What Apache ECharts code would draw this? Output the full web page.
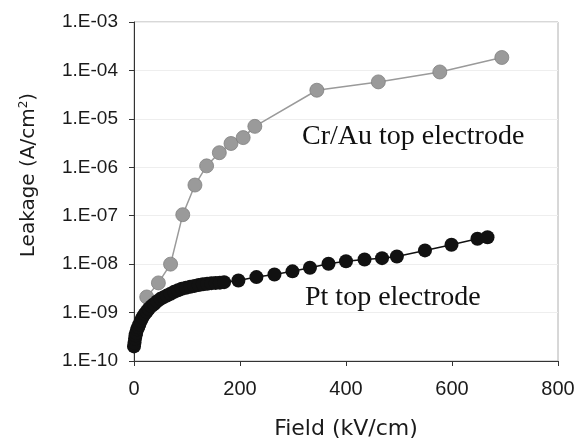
<!DOCTYPE html>
<html>
<head>
<meta charset="utf-8">
<script src="https://cdn.jsdelivr.net/npm/echarts@6/dist/echarts.min.js"></script>
<style>
  html, body { margin: 0; padding: 0; background: #fff; }
  #chart { width: 578px; height: 441px; }
</style>
</head>
<body>
<div id="chart"></div>
<script>
// Cr/Au top electrode (gray)
const crauField = [24, 46, 69, 92, 115, 137, 161, 183, 206, 228, 345, 461, 577, 694]
const crauLeak = [2.1e-9, 4.1e-9, 1.0e-8, 1.05e-7, 4.3e-7, 1.07e-6, 2.0e-6, 3.1e-6, 4.1e-6, 7.0e-6, 3.9e-5, 5.8e-5, 9.3e-5, 1.85e-4]

// Pt top electrode (black)
const ptField = [0, 1, 2, 3, 4, 6, 8, 10, 13, 16, 20, 24, 28, 33, 38, 44, 50, 56, 62, 69, 76, 83, 90, 98, 106, 114, 122, 130, 138, 146, 154, 162, 170,
  197, 231, 265, 299, 332, 367, 400, 435, 468, 496, 549, 599, 648, 667]
const ptLeak = [2.0e-10, 2.4e-10, 2.9e-10, 3.4e-10, 3.8e-10, 4.5e-10, 5.0e-10, 5.7e-10, 6.8e-10, 7.9e-10, 9.3e-10, 1.05e-9, 1.2e-9, 1.36e-9, 1.5e-9, 1.72e-9, 1.92e-9, 2.08e-9, 2.24e-9, 2.45e-9, 2.7e-9, 2.9e-9, 3.1e-9, 3.25e-9, 3.4e-9, 3.55e-9, 3.7e-9, 3.85e-9, 3.95e-9, 4.05e-9, 4.1e-9, 4.15e-9, 4.25e-9,
  4.6e-9, 5.4e-9, 6.1e-9, 7.1e-9, 8.4e-9, 1.02e-8, 1.15e-8, 1.25e-8, 1.33e-8, 1.44e-8, 1.92e-8, 2.51e-8, 3.34e-8, 3.6e-8]

const yTickLabels = ['1.E-10', '1.E-09', '1.E-08', '1.E-07', '1.E-06', '1.E-05', '1.E-04', '1.E-03']
const xTickLabels = ['0', '200', '400', '600', '800']

const chart = echarts.init(document.getElementById('chart'))

const zip = (xs, ys) => xs.map((x, i) => [x, ys[i]])

const option = {
  animation: false,
  backgroundColor: '#fff',
  grid: {
    left: 134, right: 20, top: 22, bottom: 80,
    outerBoundsMode: 'none',
    containLabel: false,
    show: true, borderColor: '#b0b0b0', borderWidth: 1
  },
  xAxis: {
    type: 'value',
    min: 0, max: 800, interval: 200,
    name: 'Field (kV/cm)',
    nameLocation: 'middle',
    nameGap: 57,
    nameTextStyle: { fontFamily: 'DejaVu Sans', fontSize: 22, color: '#1a1a1a' },
    axisLine: { show: true, lineStyle: { color: '#333', width: 1 } },
    axisTick: { show: true, inside: false, length: 5, lineStyle: { color: '#333' } },
    axisLabel: {
      margin: 18,
      fontFamily: 'Liberation Sans', fontSize: 20, color: '#1a1a1a',
      formatter: (v) => xTickLabels[Math.round(v / 200)]
    },
    splitLine: { show: false }
  },
  yAxis: {
    type: 'log',
    logBase: 10,
    min: 1e-10, max: 1e-3,
    axisLine: { show: true, lineStyle: { color: '#333', width: 1 } },
    axisTick: { show: true, inside: false, length: 5, lineStyle: { color: '#333' } },
    axisLabel: {
      margin: 16,
      fontFamily: 'Liberation Sans', fontSize: 19, color: '#1a1a1a',
      formatter: (v) => yTickLabels[Math.round(Math.log10(v)) + 10]
    },
    splitLine: { show: true, lineStyle: { color: '#eeeeee', width: 1 } },
    minorTick: { show: false },
    minorSplitLine: { show: false }
  },
  graphic: [
    {
      type: 'text',
      x: 29, y: 175,
      rotation: Math.PI / 2,
      style: {
        text: '{a|Leakage (A/cm}{s|2}{a|)}',
        align: 'center', verticalAlign: 'middle',
        rich: {
          a: { fontFamily: 'DejaVu Sans', fontSize: 20, fill: '#1a1a1a' },
          s: { fontFamily: 'DejaVu Sans', fontSize: 12, fill: '#1a1a1a', verticalAlign: 'top', padding: [0, 0, 10, 0] }
        }
      }
    },
    {
      type: 'text',
      x: 302, y: 137,
      style: {
        text: 'Cr/Au top electrode',
        fontFamily: 'Liberation Serif', fontSize: 28, fill: '#111',
        align: 'left', verticalAlign: 'middle'
      }
    },
    {
      type: 'text',
      x: 305, y: 298,
      style: {
        text: 'Pt top electrode',
        fontFamily: 'Liberation Serif', fontSize: 28, fill: '#111',
        align: 'left', verticalAlign: 'middle'
      }
    }
  ],
  series: [
    {
      name: 'Cr/Au top electrode',
      type: 'line',
      data: zip(crauField, crauLeak),
      symbol: 'circle',
      symbolSize: 14,
      lineStyle: { color: '#9a9a9a', width: 1.5 },
      itemStyle: { color: '#9a9a9a', borderColor: '#808080', borderWidth: 0.8 },
      z: 2
    },
    {
      name: 'Pt top electrode',
      type: 'line',
      data: zip(ptField, ptLeak),
      symbol: 'circle',
      symbolSize: 14,
      lineStyle: { color: '#111', width: 1.5 },
      itemStyle: { color: '#111', borderWidth: 0 },
      z: 3
    }
  ]
}

chart.setOption(option)
</script>
</body>
</html>
